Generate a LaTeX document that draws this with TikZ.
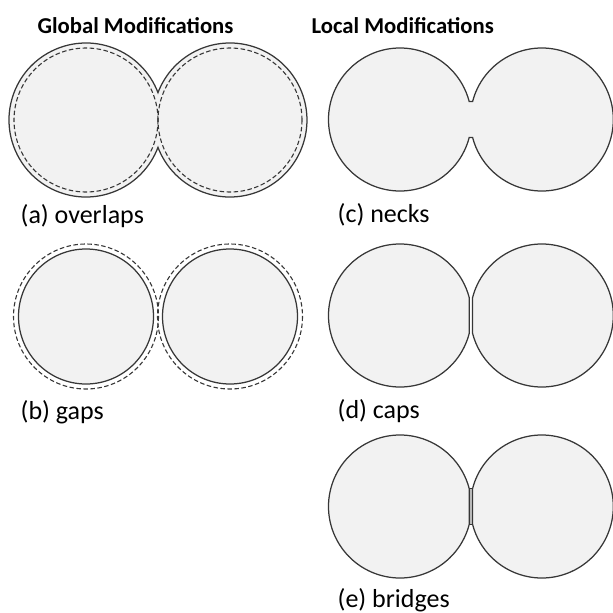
\documentclass[tikz,border=0pt]{standalone}
\usepackage{fontspec}
\setmainfont{Carlito}
\usetikzlibrary{calc}
\definecolor{blobfill}{RGB}{242,242,242}
\definecolor{blobline}{RGB}{55,55,55}
\definecolor{bridgefill}{RGB}{185,185,185}

\begin{document}
\begin{tikzpicture}[x=1pt, y=-1pt, line width=1.25pt,
  blob/.style={draw=blobline, fill=blobfill},
  orig/.style={draw=blobline, line width=1.1pt, dash pattern=on 4.5pt off 2.5pt},
  lbl/.style={anchor=base west, inner sep=0pt, font=\fontsize{26}{31}\selectfont},
  ttl/.style={anchor=base, inner sep=0pt, font=\fontsize{22.7}{27}\selectfont\bfseries}]
\useasboundingbox (0,0) rectangle (613,613);
\node[ttl] (tglobal) at (135.5,33) {Global Modifications};
\node[ttl] (tlocal) at (402.7,33) {Local Modifications};

% (a) overlaps
\coordinate (aL) at (86,120);
\coordinate (aR) at (230,120);
\draw[blob] ([shift={(20.8:77)}]aL) arc[start angle=20.8, end angle=339.2, radius=77]
  arc[start angle=200.8, end angle=519.2, radius=77] -- cycle;
\foreach \c in {aL,aR}
 \draw[orig] (\c) circle[radius=72];
\node[lbl] (lbla) at (20,223) {(a) overlaps};

% (b) gaps
\coordinate (bL) at (86,316.5);
\coordinate (bR) at (230,316.5);
\foreach \c in {bL,bR}
 \draw[blob] (\c) circle[radius=67.5];
\foreach \c in {bL,bR}
 \draw[orig] (\c) circle[radius=72.5];
\node[lbl] (lblb) at (20,419) {(b) gaps};

% (c) necks
\coordinate (cL) at (400,119.5);
\coordinate (cR) at (541.8,119.5);
\draw[blob] ([shift={(14.6:71.5)}]cL) arc[start angle=14.6, end angle=345.4, radius=71.5]
  -- ([shift={(194.6:71.5)}]cR) arc[start angle=194.6, end angle=525.4, radius=71.5] -- cycle;
\node[lbl] (lblc) at (337,222) {(c) necks};

% (d) caps
\coordinate (dL) at (400,315.5);
\coordinate (dR) at (541.8,315.5);
\foreach \c/\a in {dL/14.6, dR/194.6}
 \draw[blob] ([shift={(\a:71.5)}]\c) arc[start angle=\a, end angle=\a+330.8, radius=71.5] -- cycle;
\node[lbl] (lbld) at (337,418) {(d) caps};

% (e) bridges
\coordinate (eL) at (400,506.5);
\coordinate (eR) at (541.8,506.5);
\foreach \c/\a in {eL/14.6, eR/194.6}
 \draw[blob] ([shift={(\a:71.5)}]\c) arc[start angle=\a, end angle=\a+330.8, radius=71.5] -- cycle;
\draw[draw=blobline, fill=bridgefill, line width=1pt] ([shift={(14.6:71.5)}]eL) rectangle ([shift={(194.6:71.5)}]eR);
\node[lbl] (lble) at (337,607) {(e) bridges};
\end{tikzpicture}
\end{document}
